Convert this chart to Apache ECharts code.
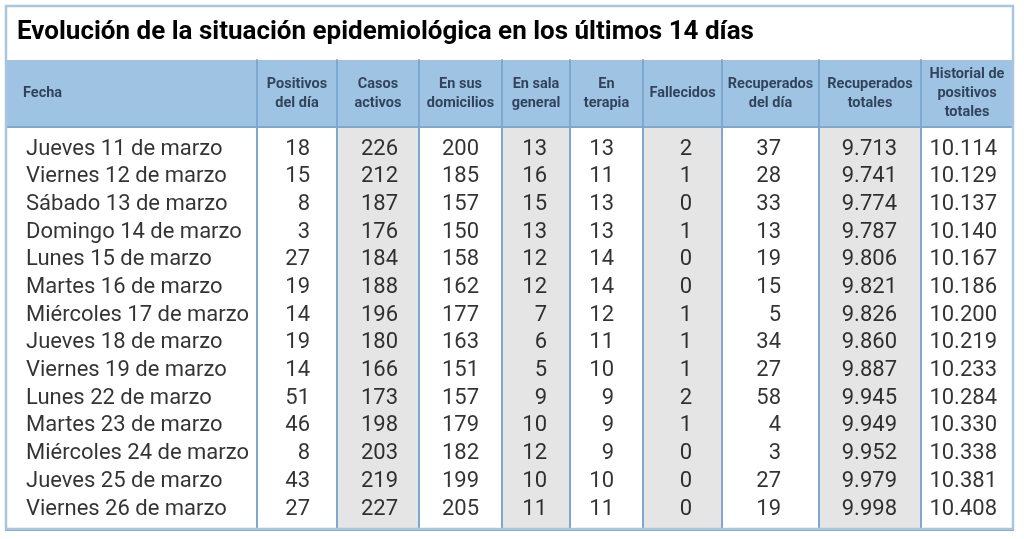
<!DOCTYPE html>
<html>
<head>
<meta charset="utf-8">
<script src="https://cdn.jsdelivr.net/npm/echarts@6/dist/echarts.min.js"></script>
<style>
html,body{margin:0;padding:0;background:#fff;}
#main{width:1024px;height:539px;}
</style>
</head>
<body>
<div id="main"></div>
<script>
// ---- data ----
var titulo = "Evolución de la situación epidemiológica en los últimos 14 días";
var encabezados = ["Fecha", "Positivos\ndel día", "Casos\nactivos", "En sus\ndomicilios", "En sala\ngeneral", "En\nterapia", "Fallecidos", "Recuperados\ndel día", "Recuperados\ntotales", "Historial de\npositivos\ntotales"];
var fechas = ["Jueves 11 de marzo", "Viernes 12 de marzo", "Sábado 13 de marzo", "Domingo 14 de marzo", "Lunes 15 de marzo", "Martes 16 de marzo", "Miércoles 17 de marzo", "Jueves 18 de marzo", "Viernes 19 de marzo", "Lunes 22 de marzo", "Martes 23 de marzo", "Miércoles 24 de marzo", "Jueves 25 de marzo", "Viernes 26 de marzo"];
var positivosDelDia = [18, 15, 8, 3, 27, 19, 14, 19, 14, 51, 46, 8, 43, 27];
var casosActivos = [226, 212, 187, 176, 184, 188, 196, 180, 166, 173, 198, 203, 219, 227];
var enDomicilios = [200, 185, 157, 150, 158, 162, 177, 163, 151, 157, 179, 182, 199, 205];
var enSalaGeneral = [13, 16, 15, 13, 12, 12, 7, 6, 5, 9, 10, 12, 10, 11];
var enTerapia = [13, 11, 13, 13, 14, 14, 12, 11, 10, 9, 9, 9, 10, 11];
var fallecidos = [2, 1, 0, 1, 0, 0, 1, 1, 1, 2, 1, 0, 0, 0];
var recuperadosDelDia = [37, 28, 33, 13, 19, 15, 5, 34, 27, 58, 4, 3, 27, 19];
var recuperadosTotales = [9713, 9741, 9774, 9787, 9806, 9821, 9826, 9860, 9887, 9945, 9949, 9952, 9979, 9998];
var historialPositivos = [10114, 10129, 10137, 10140, 10167, 10186, 10200, 10219, 10233, 10284, 10330, 10338, 10381, 10408];

// ---- layout ----
var columnas = [fechas, positivosDelDia, casosActivos, enDomicilios, enSalaGeneral, enTerapia, fallecidos, recuperadosDelDia, recuperadosTotales, historialPositivos];
var bordes = [6, 257, 337, 419, 502, 570, 643, 722, 819, 921, 1013];
var margenDerecho = [0, 27, 21, 23, 23, 29, 30, 38, 24, 16];
var sombreadas = [false, false, true, false, true, false, true, false, true, false];
var H_TOP = 60, H_BOT = 127, B_BOT = 530;
var ROW0 = 149, ROWN = 509;
var FONT = "Roboto, 'Liberation Sans', sans-serif";
var CLR_HEAD = '#9ec3e3', CLR_DIV = '#7fa8cf', CLR_GRAY = '#e5e5e5', CLR_FRAME = '#a9c6df';

function fmt(v) {
  if (typeof v === 'string') return v;
  return String(v).replace(/\B(?=(\d{3})+(?!\d))/g, '.');
}

var unit = (ROWN - ROW0) / (fechas.length - 1);
var yMin = -(ROW0 - H_BOT) / unit;
var yMax = (fechas.length - 1) + (B_BOT - ROWN) / unit;

var grid = [], xAxis = [], yAxis = [], series = [];
for (var c = 0; c < columnas.length; c++) {
  var left = bordes[c], width = bordes[c + 1] - bordes[c];
  // header grid
  var hi = grid.length;
  grid.push({ left: left, top: H_TOP, width: width, height: H_BOT - H_TOP, show: true, backgroundColor: CLR_HEAD, borderColor: CLR_HEAD, borderWidth: 0 });
  xAxis.push({ gridIndex: hi, type: 'value', min: 0, max: 1, show: false });
  yAxis.push({ gridIndex: hi, type: 'value', min: 0, max: 1, show: c > 0, axisLine: { show: true, lineStyle: { color: CLR_DIV, width: 2 } }, axisTick: { show: false }, axisLabel: { show: false }, splitLine: { show: false } });
  series.push({
    type: 'scatter', xAxisIndex: hi, yAxisIndex: hi, symbolSize: 0, silent: true,
    data: [[c === 0 ? 0 : 0.5, 0.5]],
    label: {
      show: true, position: c === 0 ? 'right' : 'inside', distance: c === 0 ? 17 : 0,
      formatter: encabezados[c], color: '#14223a', fontFamily: FONT, fontWeight: 'bold', fontSize: 14.5, lineHeight: 19,
      align: c === 0 ? 'left' : 'center', verticalAlign: 'middle', textBorderWidth: 0
    }
  });
  // body grid
  var bi = grid.length;
  grid.push({ left: left, top: H_BOT, width: width, height: B_BOT - H_BOT, show: true, backgroundColor: sombreadas[c] ? CLR_GRAY : '#ffffff', borderColor: CLR_DIV, borderWidth: 2 });
  xAxis.push({ gridIndex: bi, type: 'value', min: 0, max: 1, show: false });
  yAxis.push({ gridIndex: bi, type: 'value', inverse: true, min: yMin, max: yMax, show: false });
  var vals = columnas[c];
  series.push({
    type: 'scatter', xAxisIndex: bi, yAxisIndex: bi, symbolSize: 0, silent: true,
    data: vals.map(function (v, i) { return { value: [c === 0 ? 0 : 1, i], txt: fmt(v) }; }),
    label: {
      show: true, position: c === 0 ? 'right' : 'left', distance: c === 0 ? 20 : margenDerecho[c],
      formatter: function (p) { return p.data.txt; },
      color: '#000000', fontFamily: FONT, fontSize: 22, align: c === 0 ? 'left' : 'right', verticalAlign: 'middle', textBorderWidth: 0
    }
  });
}

var chart = echarts.init(document.getElementById('main'), null, { renderer: 'canvas' });
chart.setOption({
  backgroundColor: '#ffffff',
  animation: false,
  title: { text: titulo, left: 12, top: 14, textStyle: { fontFamily: FONT, fontWeight: 'bold', fontSize: 26, color: '#000000' } },
  grid: grid, xAxis: xAxis, yAxis: yAxis, series: series,
  graphic: [{ type: 'rect', z: 100, silent: true, shape: { x: 6, y: 6, width: 1007, height: 523 }, style: { fill: 'none', stroke: CLR_FRAME, lineWidth: 2.5 } }]
});
</script>
</body>
</html>
